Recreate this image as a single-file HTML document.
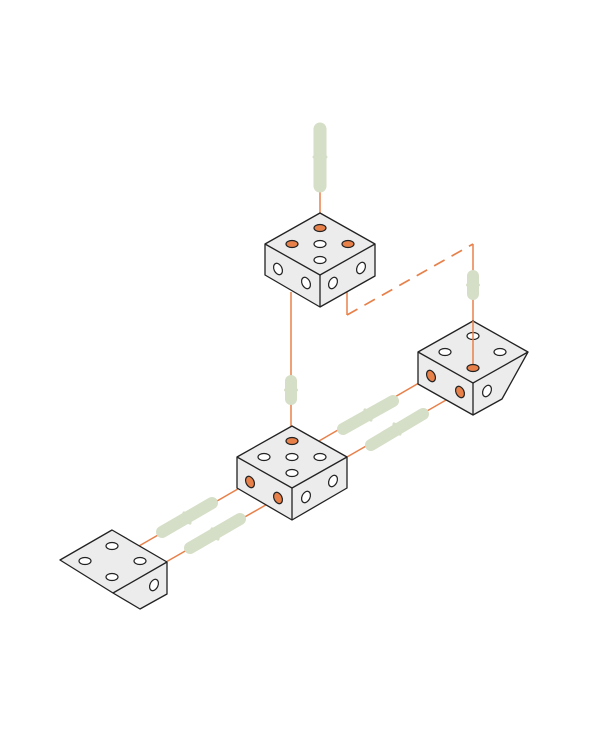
<!DOCTYPE html>
<html><head><style>html,body{margin:0;padding:0;background:#fff}svg{display:block}</style></head>
<body>
<svg width="600" height="755" viewBox="0 0 600 755" xmlns="http://www.w3.org/2000/svg">
<g stroke="#e8804a" stroke-width="1.5" fill="none">
<line x1="320" y1="190" x2="320" y2="228"/>
<line x1="291" y1="292" x2="291" y2="441"/>
<polyline points="347,292 347,315"/>
<line x1="347" y1="315" x2="473" y2="244" stroke-dasharray="12,8" stroke-width="1.7"/>
<line x1="473" y1="244" x2="473" y2="368"/>
<line x1="431" y1="376" x2="319" y2="441"/>
<line x1="460" y1="392" x2="347" y2="457"/>
<line x1="250" y1="482" x2="139" y2="546"/>
<line x1="278" y1="498" x2="166" y2="562"/>
</g>
<g stroke="#d5dec6" stroke-linecap="round" fill="#d5dec6">
<line x1="320" y1="129" x2="320" y2="186" stroke-width="13"/>
<ellipse cx="320" cy="157" rx="7.5" ry="3" stroke="none"/>
<line x1="291" y1="381" x2="291" y2="399" stroke-width="12"/>
<ellipse cx="291" cy="390" rx="7" ry="3" stroke="none"/>
<line x1="473" y1="276" x2="473" y2="294" stroke-width="12"/>
<ellipse cx="473" cy="285" rx="7" ry="3" stroke="none"/>
<line x1="343" y1="429" x2="393" y2="401" stroke-width="12"/>
<ellipse cx="368" cy="415" rx="7.5" ry="3" transform="rotate(60 368 415)" stroke="none"/>
<line x1="371" y1="445" x2="423" y2="414" stroke-width="12"/>
<ellipse cx="397" cy="429" rx="7.5" ry="3" transform="rotate(60 397 429)" stroke="none"/>
<line x1="162" y1="532" x2="212" y2="503" stroke-width="12"/>
<ellipse cx="187" cy="518" rx="7.5" ry="3" transform="rotate(60 187 518)" stroke="none"/>
<line x1="190" y1="548" x2="240" y2="519" stroke-width="12"/>
<ellipse cx="215" cy="534" rx="7.5" ry="3" transform="rotate(60 215 534)" stroke="none"/>
</g>
<g stroke="#222" stroke-width="1.3" fill="#ececec" stroke-linejoin="round">
<polygon points="320,213 265,244 265,275 320,307 375,276 375,244"/>
<polyline points="265,244 320,275 375,244" fill="none"/>
<line x1="320" y1="275" x2="320" y2="307"/>
<polygon points="292,426 237,457 237,488 292,520 347,488 347,457"/>
<polyline points="237,457 292,488 347,457" fill="none"/>
<line x1="292" y1="488" x2="292" y2="520"/>
<polygon points="473,321 418,352 418,384 473,415 502,399 528,352"/>
<polyline points="418,352 473,383 528,352" fill="none"/>
<line x1="473" y1="383" x2="473" y2="415"/>
<polygon points="112,530 60,560 113,593 140,609 167,594 167,562"/>
<polyline points="113,593 167,562" fill="none"/>
</g>
<g stroke="#222" stroke-width="1.2" fill="#fff">
<ellipse cx="320" cy="244" rx="6" ry="3.5"/>
<ellipse cx="320" cy="260" rx="6" ry="3.5"/>
<ellipse cx="278" cy="269" rx="4" ry="6" transform="rotate(-25 278 269)"/>
<ellipse cx="306" cy="283" rx="4" ry="6" transform="rotate(-25 306 283)"/>
<ellipse cx="333" cy="283" rx="4" ry="6" transform="rotate(25 333 283)"/>
<ellipse cx="361" cy="268" rx="4" ry="6" transform="rotate(25 361 268)"/>
<ellipse cx="264" cy="457" rx="6" ry="3.5"/>
<ellipse cx="292" cy="457" rx="6" ry="3.5"/>
<ellipse cx="320" cy="457" rx="6" ry="3.5"/>
<ellipse cx="292" cy="473" rx="6" ry="3.5"/>
<ellipse cx="306" cy="497" rx="4" ry="6" transform="rotate(25 306 497)"/>
<ellipse cx="333" cy="481" rx="4" ry="6" transform="rotate(25 333 481)"/>
<ellipse cx="445" cy="352" rx="6" ry="3.5"/>
<ellipse cx="473" cy="336" rx="6" ry="3.5"/>
<ellipse cx="500" cy="352" rx="6" ry="3.5"/>
<ellipse cx="487" cy="391" rx="4" ry="6" transform="rotate(25 487 391)"/>
<ellipse cx="112" cy="546" rx="6" ry="3.5"/>
<ellipse cx="85" cy="561" rx="6" ry="3.5"/>
<ellipse cx="140" cy="561" rx="6" ry="3.5"/>
<ellipse cx="112" cy="577" rx="6" ry="3.5"/>
<ellipse cx="154" cy="585" rx="4" ry="6" transform="rotate(25 154 585)"/>
</g>
<line x1="473" y1="321" x2="473" y2="368" stroke="#e8804a" stroke-width="1.5"/>
<g stroke="#222" stroke-width="1.2" fill="#e8804a">
<ellipse cx="320" cy="228" rx="6" ry="3.5"/>
<ellipse cx="292" cy="244" rx="6" ry="3.5"/>
<ellipse cx="348" cy="244" rx="6" ry="3.5"/>
<ellipse cx="292" cy="441" rx="6" ry="3.5"/>
<ellipse cx="250" cy="482" rx="4" ry="6" transform="rotate(-25 250 482)"/>
<ellipse cx="278" cy="498" rx="4" ry="6" transform="rotate(-25 278 498)"/>
<ellipse cx="473" cy="368" rx="6" ry="3.5"/>
<ellipse cx="431" cy="376" rx="4" ry="6" transform="rotate(-25 431 376)"/>
<ellipse cx="460" cy="392" rx="4" ry="6" transform="rotate(-25 460 392)"/>
</g>
</svg>
</body></html>
